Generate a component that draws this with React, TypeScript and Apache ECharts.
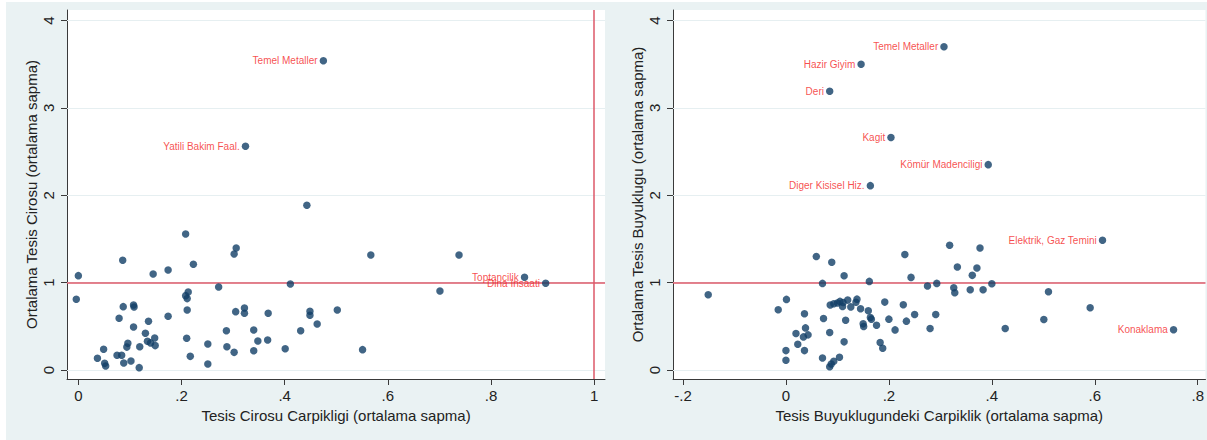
import React, { useEffect, useRef } from "react";
import * as echarts from "echarts";

// ---------- Left panel: Tesis Cirosu ----------
const leftNames = ["Temel Metaller", "Yatili Bakim Faal.", "Toptancilik", "Dina Insaati"];
const leftNamedX = [0.475, 0.324, 0.865, 0.906];
const leftNamedY = [3.54, 2.56, 1.061, 0.992];

const leftX = [
  0.443, 0.208, 0.306, 0.302, 0.567, 0.738, 0.086, 0.223, 0.174, 0.145, 0.0,
  0.411, 0.272, 0.701, 0.213, 0.208, 0.211, -0.004, 0.087, 0.107, 0.108, 0.322,
  0.211, 0.502, 0.305, 0.449, 0.322, 0.368, 0.449, 0.174, 0.079, 0.136, 0.463,
  0.107, 0.34, 0.287, 0.431, 0.13, 0.148, 0.21, 0.348, 0.367, 0.134, 0.096,
  0.14, 0.251, 0.149, 0.119, 0.094, 0.288, 0.049, 0.401, 0.551, 0.34, 0.302,
  0.075, 0.084, 0.217, 0.037, 0.102, 0.088, 0.051, 0.251, 0.053, 0.118,
];
const leftY = [
  1.885, 1.557, 1.397, 1.328, 1.317, 1.317, 1.256, 1.21, 1.145, 1.099, 1.08,
  0.985, 0.95, 0.905, 0.893, 0.851, 0.817, 0.809, 0.725, 0.744, 0.721, 0.71,
  0.687, 0.687, 0.668, 0.672, 0.649, 0.649, 0.626, 0.615, 0.592, 0.557, 0.527,
  0.492, 0.458, 0.45, 0.45, 0.42, 0.366, 0.363, 0.332, 0.344, 0.33, 0.305,
  0.31, 0.298, 0.279, 0.267, 0.262, 0.267, 0.237, 0.244, 0.233, 0.221, 0.202,
  0.168, 0.168, 0.156, 0.134, 0.103, 0.08, 0.076, 0.069, 0.046, 0.027,
];

// ---------- Right panel: Tesis Buyuklugu ----------
const rightNames = [
  "Temel Metaller", "Hazir Giyim", "Deri", "Kagit", "Kömür Madenciligi",
  "Diger Kisisel Hiz.", "Elektrik, Gaz Temini", "Konaklama",
];
const rightNamedX = [0.307, 0.146, 0.085, 0.204, 0.393, 0.164, 0.615, 0.753];
const rightNamedY = [3.7, 3.5, 3.19, 2.66, 2.35, 2.11, 1.485, 0.46];

const rightX = [
  -0.151, -0.015, 0.001, 0.0, 0.0, 0.0195, 0.023, 0.034, 0.038, 0.043, 0.036,
  0.036, 0.059, 0.071, 0.073, 0.071, 0.085, 0.085, 0.088, 0.093, 0.104, 0.089,
  0.086, 0.093, 0.1, 0.105, 0.111, 0.11, 0.12, 0.126, 0.136, 0.138, 0.145,
  0.113, 0.113, 0.116, 0.15, 0.151, 0.16, 0.164, 0.166, 0.162, 0.176, 0.183,
  0.188, 0.192, 0.2, 0.212, 0.228, 0.231, 0.234, 0.243, 0.25, 0.275, 0.28,
  0.291, 0.293, 0.318, 0.326, 0.328, 0.333, 0.358, 0.362, 0.371, 0.377, 0.383,
  0.4, 0.426, 0.501, 0.51, 0.591,
];
const rightY = [
  0.861, 0.689, 0.808, 0.222, 0.111, 0.417, 0.295, 0.379, 0.482, 0.402, 0.643,
  0.222, 1.298, 0.991, 0.589, 0.138, 0.429, 0.038, 0.068, 0.1, 0.146, 1.233,
  0.743, 0.758, 0.766, 0.785, 0.773, 0.728, 0.8, 0.722, 0.775, 0.811, 0.7,
  1.079, 0.322, 0.57, 0.528, 0.498, 0.678, 0.601, 0.582, 1.014, 0.513, 0.314,
  0.249, 0.777, 0.582, 0.459, 0.746, 1.321, 0.559, 1.06, 0.635, 0.961, 0.475,
  0.635, 0.991, 1.428, 0.942, 0.884, 1.179, 0.919, 1.083, 1.167, 1.397, 0.919,
  0.988, 0.475, 0.578, 0.896, 0.712,
];

const xTicksLeft = [0, 0.2, 0.4, 0.6, 0.8, 1];
const xTicksRight = [-0.2, 0, 0.2, 0.4, 0.6, 0.8];
const yTicks = [0, 1, 2, 3, 4];

const leftTitleX = "Tesis Cirosu Carpikligi (ortalama sapma)";
const leftTitleY = "Ortalama Tesis Cirosu (ortalama sapma)";
const rightTitleX = "Tesis Buyuklugundeki Carpiklik (ortalama sapma)";
const rightTitleY = "Ortalama Tesis Buyuklugu (ortalama sapma)";

const FONT = "'Liberation Sans', Arial, sans-serif";
const NAVY = "#123e66";
const LINE_RED = "#dc5868";
const LABEL_RED = "#f41e1e";
const GRID_LIGHT = "#e6eff1";

const fmtTick = (v: number) => {
  if (Math.abs(v) < 1e-9) return "0";
  const s = String(+v.toFixed(2));
  return s.replace(/^(-?)0\./, "$1.");
};

function makeData(xs: number[], ys: number[]) {
  return xs.map((x, i) => [x, ys[i]]);
}
function makeNamed(names: string[], xs: number[], ys: number[]) {
  return names.map((n, i) => ({ name: n, value: [xs[i], ys[i]], label: { show: true } }));
}

function xAxis(gridIndex: number, min: number, max: number, ticks: number[], name: string) {
  return {
    type: "value",
    gridIndex,
    min,
    max,
    name,
    nameLocation: "middle",
    nameGap: 24,
    nameTextStyle: { fontFamily: FONT, fontSize: 15, color: "#222" },
    axisLine: { show: true, onZero: false, lineStyle: { color: "#3a3a3a", width: 1 } },
    axisTick: { show: true, length: 6, customValues: ticks, lineStyle: { color: "#3a3a3a" } },
    axisLabel: {
      show: true,
      customValues: ticks,
      formatter: (v: number) => fmtTick(v),
      fontFamily: FONT,
      fontSize: 15,
      color: "#222",
      margin: 9,
    },
    splitLine: { show: false },
  };
}

function yAxis(gridIndex: number, name: string) {
  return {
    type: "value",
    gridIndex,
    min: -0.103,
    max: 4.12,
    name,
    nameLocation: "middle",
    nameGap: 28,
    nameRotate: 90,
    nameTextStyle: { fontFamily: FONT, fontSize: 15, color: "#222" },
    axisLine: { show: true, onZero: false, lineStyle: { color: "#3a3a3a", width: 1 } },
    axisTick: { show: true, length: 6, customValues: yTicks, lineStyle: { color: "#3a3a3a" } },
    axisLabel: {
      show: true,
      customValues: yTicks,
      rotate: 90,
      formatter: (v: number) => fmtTick(v),
      fontFamily: FONT,
      fontSize: 15,
      color: "#222",
      margin: 11,
    },
    splitLine: { show: false },
  };
}

const gridMarkLines = yTicks.map((t) => ({
  yAxis: t,
  lineStyle: { color: GRID_LIGHT, width: 1, type: "solid" },
}));

function scatterSeries(idx: number, pts: any[], named: any[], redLines: any[]) {
  return [
    {
      type: "scatter",
      xAxisIndex: idx,
      yAxisIndex: idx,
      symbol: "circle",
      symbolSize: 7.5,
      itemStyle: { color: NAVY },
      data: pts,
      silent: true,
      z: 3,
      markLine: {
        silent: true,
        symbol: "none",
        label: { show: false },
        data: gridMarkLines,
        z: 1,
      },
    },
    {
      type: "scatter",
      xAxisIndex: idx,
      yAxisIndex: idx,
      symbol: "circle",
      symbolSize: 7.5,
      itemStyle: { color: NAVY },
      data: named,
      silent: true,
      z: 4,
      label: {
        show: true,
        position: "left",
        distance: 2,
        formatter: "{b}",
        color: LABEL_RED,
        fontFamily: FONT,
        fontSize: 10,
      },
      markLine: {
        silent: true,
        symbol: "none",
        label: { show: false },
        data: redLines,
        z: 2,
      },
    },
  ];
}

export default function App() {
  const ref = useRef<HTMLDivElement>(null);

  useEffect(() => {
    if (!ref.current) return;
    const chart = echarts.init(ref.current, null, { renderer: "svg" });
    const redStyle = { color: LINE_RED, width: 1.5, type: "solid" };
    chart.setOption({
      animation: false,
      backgroundColor: "transparent",
      grid: [
        { left: 67, top: 10, width: 538, height: 369, show: true, backgroundColor: "#ffffff", borderWidth: 0 },
        { left: 673, top: 10, width: 534, height: 369, show: true, backgroundColor: "#ffffff", borderWidth: 0 },
      ],
      xAxis: [
        xAxis(0, -0.022, 1.021, xTicksLeft, leftTitleX),
        xAxis(1, -0.2194, 0.815, xTicksRight, rightTitleX),
      ],
      yAxis: [yAxis(0, leftTitleY), yAxis(1, rightTitleY)],
      series: [
        ...scatterSeries(0, makeData(leftX, leftY), makeNamed(leftNames, leftNamedX, leftNamedY), [
          { yAxis: 1, lineStyle: redStyle },
          { xAxis: 1, lineStyle: redStyle },
        ]),
        ...scatterSeries(1, makeData(rightX, rightY), makeNamed(rightNames, rightNamedX, rightNamedY), [
          { yAxis: 1, lineStyle: redStyle },
        ]),
      ],
    });
    return () => chart.dispose();
  }, []);

  return (
    <div style={{ position: "absolute", left: 0, top: 0, width: 1207, height: 440, background: "#ffffff", overflow: "hidden" }}>
      <div style={{ position: "absolute", left: 6, top: 2, width: 1201, height: 438, background: "#eaf2f3" }} />
      <div ref={ref} style={{ position: "absolute", left: 0, top: 0, width: 1207, height: 440 }} />
    </div>
  );
}
